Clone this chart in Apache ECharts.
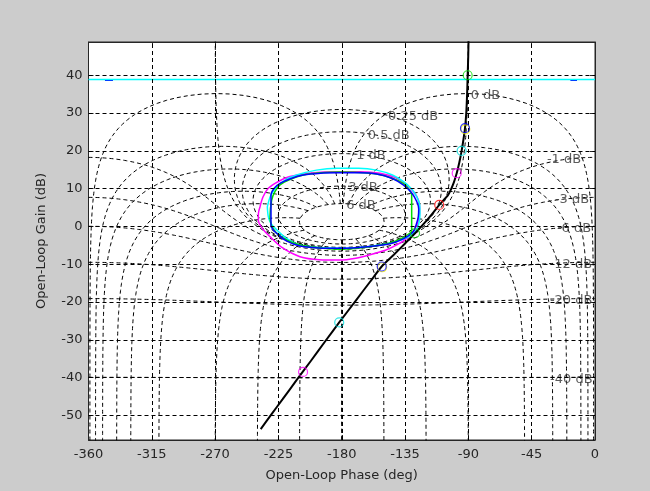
<!DOCTYPE html>
<html>
<head>
<meta charset="utf-8">
<script src="https://cdn.jsdelivr.net/npm/echarts@6/dist/echarts.min.js"></script>
<style>
  html, body { margin: 0; padding: 0; background: #cccccc; }
  #chart { width: 650px; height: 491px; }
</style>
</head>
<body>
<div id="chart"></div>
<script>
// ---- axes ----
const phaseTicks = [-360, -315, -270, -225, -180, -135, -90, -45, 0];
const gainTicks = [-50, -40, -30, -20, -10, 0, 10, 20, 30, 40];
const phaseRange = [-360, 0];
const gainRange = [-56.5, 48.8];

// ---- Nichols grid levels ----
const closedLoopGainsDb = [6, 3, 1, 0.5, 0.25, 0, -1, -3, -6, -12, -20, -40];
const closedLoopPhasesDeg = [1, 5, 10, 20, 30, 50, 90, 120, 150, 180];

// ---- open-loop response (phase in deg, gain in dB) ----
const responsePhase = [-89.9, -90.1, -90.5, -90.9, -91.5, -92.4, -93.5, -94.8, -96.4, -98.3, -101, -104.5, -110.7, -116, -121, -127.9, -135, -143, -151.6, -160, -170, -181.8, -192, -202, -212, -222, -230, -237.6];
const responseGain  = [49, 45, 40, 35, 30, 26, 23, 20, 17, 14.1, 11, 8.3, 5.7, 3.2, 1.0, -1.8, -4.5, -7.5, -10.6, -14.7, -19.6, -25.4, -30.5, -35.6, -40.6, -45.7, -49.7, -53.6];

// ---- frequency markers along the response ----
const greenMarkers   = [[-90.5, 40], [-127.9, -1.8]];
const blueMarkers    = [[-92.4, 26], [-151.6, -10.6]];
const yellowMarkers  = [[-92.2, 25.7], [-151.3, -10.8]];
const cyanMarkers    = [[-94.8, 20], [-181.8, -25.4]];
const magentaMarkers = [[-98.3, 14.1], [-207.5, -38.5]];
const redMarkers     = [[-110.7, 5.7]];

// ---- closed loops around the critical point ----
const cyanLoopPhase = [-232.9, -230.5, -226.2, -220.0, -212.0, -198.0, -183.6, -168.0, -155.2, -144.0, -136.3, -130.5, -126.7, -124.6, -124.4, -125.0, -126.7, -131.0, -137.5, -145.7, -160.0, -181.3, -196.0, -209.7, -219.0, -226.2, -230.5, -232.2, -232.9];
const cyanLoopGain  = [5.2, 8.2, 10.5, 12.3, 13.6, 14.9, 15.4, 15.4, 14.9, 13.6, 11.9, 10.0, 7.9, 5.7, 3.5, 1.2, -0.9, -2.4, -3.5, -4.4, -5.3, -5.8, -5.6, -4.9, -3.2, -0.9, 0.9, 2.6, 5.2];

const magentaLoopPhase = [-238.1, -236.0, -232.2, -225.0, -216.8, -200.0, -183.6, -167.0, -152.8, -141.0, -133.9, -128.5, -125.6, -124.6, -124.9, -126.5, -129.2, -134.0, -140.9, -149.0, -159.9, -170.0, -181.3, -196.0, -209.7, -222.0, -231.0, -236.5, -239.3, -239.2, -238.1];
const magentaLoopGain  = [5.2, 7.8, 10.1, 11.9, 13.2, 14.2, 14.5, 14.5, 14.1, 12.8, 11.0, 9.0, 7.0, 4.8, 2.6, 0.5, -1.4, -3.2, -4.9, -6.3, -7.5, -8.4, -8.9, -8.8, -8.0, -5.7, -2.7, -0.5, 1.7, 3.5, 5.2];

const blueLoopPhase = [-230.3, -230.3, -228.0, -223.9, -216.0, -207.3, -195.0, -183.6, -168.0, -155.2, -144.0, -136.3, -130.5, -126.7, -125.3, -125.6, -127.0, -129.2, -136.0, -145.7, -162.0, -181.3, -196.0, -209.7, -219.0, -225.1, -228.5, -230.3];
const blueLoopGain  = [0, 8.3, 10.1, 11.4, 12.7, 13.6, 14.1, 14.2, 14.2, 13.9, 12.7, 11.0, 9.0, 6.6, 4.6, 2.6, 0.6, -1.4, -3.2, -4.6, -5.4, -5.8, -5.7, -5.2, -3.9, -2.2, -1.0, 0];

const greenLoopPhase = [-130.3, -130.3, -132.5, -136.3, -145.0, -155.2, -168.0, -181.3, -195.0, -207.3, -216.5, -223.9, -227.5, -229.8, -231.0, -230.0, -226.2, -219.0, -209.7, -196.0, -181.3, -163.0, -145.7, -136.5, -130.3];
const greenLoopGain  = [-1.4, 8.3, 10.0, 11.4, 12.9, 13.9, 14.3, 14.4, 14.2, 13.6, 12.5, 11.0, 9.2, 7.0, 2.6, 0.3, -1.8, -3.6, -4.9, -5.7, -6.0, -5.5, -4.4, -3.0, -1.4];

// ---- horizontal reference lines ----
const cyanRefPhase = [-360, 0];
const cyanRefGain = [38.9, 38.9];
const blueRefPhaseLeft = [-348.3, -342.6];
const blueRefPhaseRight = [-17.5, -12.8];
const blueRefGain = [38.75, 38.75];

const zip = (xs, ys) => xs.map((x, i) => [x, ys[i]]);
const DEG = Math.PI / 180;
const MAX_CLOSED_LOOP_GAIN_DB = closedLoopGainsDb[0];

// Constant closed-loop magnitude contour in open-loop coordinates
function gainContour(db) {
  const m = Math.pow(10, db / 20);
  const pts = [];
  if (m > 1) {
    for (let i = 0; i <= 7200; i++) {
      const th = (-180 + i * 0.05) * DEG;
      const tr = m * Math.cos(th), ti = m * Math.sin(th);
      const dr = 1 - tr, di = -ti;
      const den = dr * dr + di * di;
      const lr = (tr * dr + ti * di) / den, li = (ti * dr - tr * di) / den;
      let ph = Math.atan2(li, lr) / DEG;
      if (ph > 0) ph -= 360;
      pts.push([ph, 10 * Math.log10(lr * lr + li * li)]);
    }
  } else {
    for (let i = 0; i <= 7200; i++) {
      const ph = -360 + i * 0.05;
      const c = Math.cos(ph * DEG);
      let g;
      if (Math.abs(m - 1) < 1e-12) {
        if (c >= -1e-6) continue;
        g = -1 / (2 * c);
      } else {
        const m2 = m * m;
        g = (m2 * c + Math.sqrt(m2 * m2 * c * c + m2 * (1 - m2))) / (1 - m2);
      }
      pts.push([ph, 20 * Math.log10(g)]);
    }
  }
  return pts;
}

// Constant closed-loop phase contour, from the innermost gain contour outwards
function phaseContour(psiDeg, mirrored) {
  const pts = [];
  const a = psiDeg * DEG;
  const sMin = Math.pow(10, -MAX_CLOSED_LOOP_GAIN_DB / 20);
  const N = 6000;
  for (let k = 0; k <= N; k++) {
    const s = sMin * Math.pow(10, 8 * k / N);
    const ir = s * Math.cos(a) - 1, ii = s * Math.sin(a);
    const den = ir * ir + ii * ii;
    const lr = ir / den, li = -ii / den;
    let ph = Math.atan2(li, lr) / DEG;
    if (ph > 0) ph -= 360;
    if (mirrored) ph = -360 - ph;
    pts.push([ph, -10 * Math.log10(den)]);
  }
  return pts;
}

// Label anchor: where each gain contour meets the -1 deg closed-loop phase contour
function gainLabelPoint(db) {
  const m = Math.pow(10, db / 20);
  const th = -1 * DEG;
  const tr = m * Math.cos(th), ti = m * Math.sin(th);
  const dr = 1 - tr, di = -ti;
  const den = dr * dr + di * di;
  const lr = (tr * dr + ti * di) / den, li = (ti * dr - tr * di) / den;
  let ph = Math.atan2(li, lr) / DEG;
  if (ph > 0) ph -= 360;
  return [ph, 10 * Math.log10(lr * lr + li * li)];
}

const gridStyle = { color: '#000000', width: 1, type: [4, 3] };
const series = [];

closedLoopGainsDb.forEach(db => {
  series.push({
    type: 'line', data: gainContour(db), showSymbol: false, symbol: 'none',
    lineStyle: gridStyle, silent: true, z: 1, clip: true
  });
});
closedLoopPhasesDeg.forEach(p => {
  [false, true].forEach(mir => {
    series.push({
      type: 'line', data: phaseContour(p, mir), showSymbol: false, symbol: 'none',
      lineStyle: gridStyle, silent: true, z: 1, clip: true
    });
  });
});

// Axis grid lines
series.push({
  type: 'line', data: [], silent: true, z: 1,
  markLine: {
    silent: true, symbol: ['none', 'none'], animation: false,
    label: { show: false },
    lineStyle: gridStyle,
    data: phaseTicks.filter(v => v > -360 && v < 0).map(v => ({ xAxis: v }))
      .concat(gainTicks.map(v => ({ yAxis: v })))
  }
});

// Gain contour labels
const labelFont = { fontFamily: 'DejaVu Sans', fontSize: 13, color: '#333333' };
series.push({
  type: 'scatter', symbolSize: 0, silent: true, z: 2,
  data: closedLoopGainsDb.filter(db => db >= 0).map(db => ({ value: gainLabelPoint(db), name: db + ' dB' })),
  label: { show: true, position: 'right', distance: 3, offset: [0, 2], formatter: p => p.name, ...labelFont }
});
series.push({
  type: 'scatter', symbolSize: 0, silent: true, z: 2,
  data: closedLoopGainsDb.filter(db => db < 0).map(db => ({ value: gainLabelPoint(db), name: db + ' dB' })),
  label: { show: true, position: 'left', distance: 1, offset: [0, 2], formatter: p => p.name, ...labelFont }
});

function curve(data, color, width, z, smooth) {
  return { type: 'line', data, showSymbol: false, symbol: 'none', smooth: smooth || false,
    lineStyle: { color, width }, z, silent: true, clip: true };
}
series.push(curve(zip(blueRefPhaseLeft, blueRefGain), '#0000ff', 2, 3));
series.push(curve(zip(blueRefPhaseRight, blueRefGain), '#0000ff', 2, 3));
series.push(curve(zip(cyanRefPhase, cyanRefGain), '#00ffff', 1.5, 3));
series.push(curve(zip(magentaLoopPhase, magentaLoopGain), '#ff00ff', 1.5, 3, 0.3));
series.push(curve(zip(cyanLoopPhase, cyanLoopGain), '#00ffff', 1.5, 3, 0.3));
series.push(curve(zip(greenLoopPhase, greenLoopGain), '#00dd00', 1.5, 3, 0.3));
series.push(curve(zip(blueLoopPhase, blueLoopGain), '#0000ff', 1.5, 3, 0.3));
series.push(curve(zip(responsePhase, responseGain), '#000000', 2, 4, 0.2));

function markers(data, color) {
  return {
    type: 'scatter', data, symbol: 'circle', symbolSize: 9, z: 5, silent: true,
    itemStyle: { color: 'rgba(0,0,0,0)', borderColor: color, borderWidth: 1.2 }
  };
}
series.push(markers(yellowMarkers, '#e6e600'));
series.push(markers(blueMarkers, '#0000ff'));
series.push(markers(greenMarkers, '#00dd00'));
series.push(markers(cyanMarkers, '#00dddd'));
series.push(markers(magentaMarkers, '#ff00ff'));
series.push(markers(redMarkers, '#ff0000'));

const axisFont = { fontFamily: 'DejaVu Sans', fontSize: 13, color: '#262626' };
const frameLine = { show: true, onZero: false, lineStyle: { color: '#262626', width: 1 } };
const tickIn = { show: true, inside: true, length: 5, lineStyle: { color: '#262626' } };

const option = {
  animation: false,
  backgroundColor: '#cccccc',
  grid: { left: 88.5, right: 55, top: 42, bottom: 51, show: true, backgroundColor: '#ffffff', borderColor: '#262626', borderWidth: 1 },
  xAxis: [
    {
      type: 'value', position: 'bottom', min: phaseRange[0], max: phaseRange[1], interval: 45,
      axisLine: frameLine, axisTick: tickIn, splitLine: { show: false },
      axisLabel: { ...axisFont, margin: 8, showMinLabel: true, showMaxLabel: true },
      name: 'Open-Loop Phase (deg)', nameLocation: 'middle', nameGap: 29,
      nameTextStyle: { ...axisFont }
    },
    {
      type: 'value', position: 'top', min: phaseRange[0], max: phaseRange[1], interval: 45,
      axisLine: frameLine, axisTick: tickIn, splitLine: { show: false }, axisLabel: { show: false }
    }
  ],
  yAxis: [
    {
      type: 'value', position: 'left', min: gainRange[0], max: gainRange[1],
      axisLine: frameLine,
      axisTick: { ...tickIn, customValues: gainTicks },
      splitLine: { show: false },
      axisLabel: { ...axisFont, margin: 6, customValues: gainTicks },
      name: 'Open-Loop Gain (dB)', nameLocation: 'middle', nameGap: 40,
      nameTextStyle: { ...axisFont }
    },
    {
      type: 'value', position: 'right', min: gainRange[0], max: gainRange[1],
      axisLine: frameLine,
      axisTick: { ...tickIn, customValues: gainTicks },
      splitLine: { show: false }, axisLabel: { show: false }
    }
  ],
  series
};

const chart = echarts.init(document.getElementById('chart'), null, { renderer: 'canvas' });
chart.setOption(option);
</script>
</body>
</html>
